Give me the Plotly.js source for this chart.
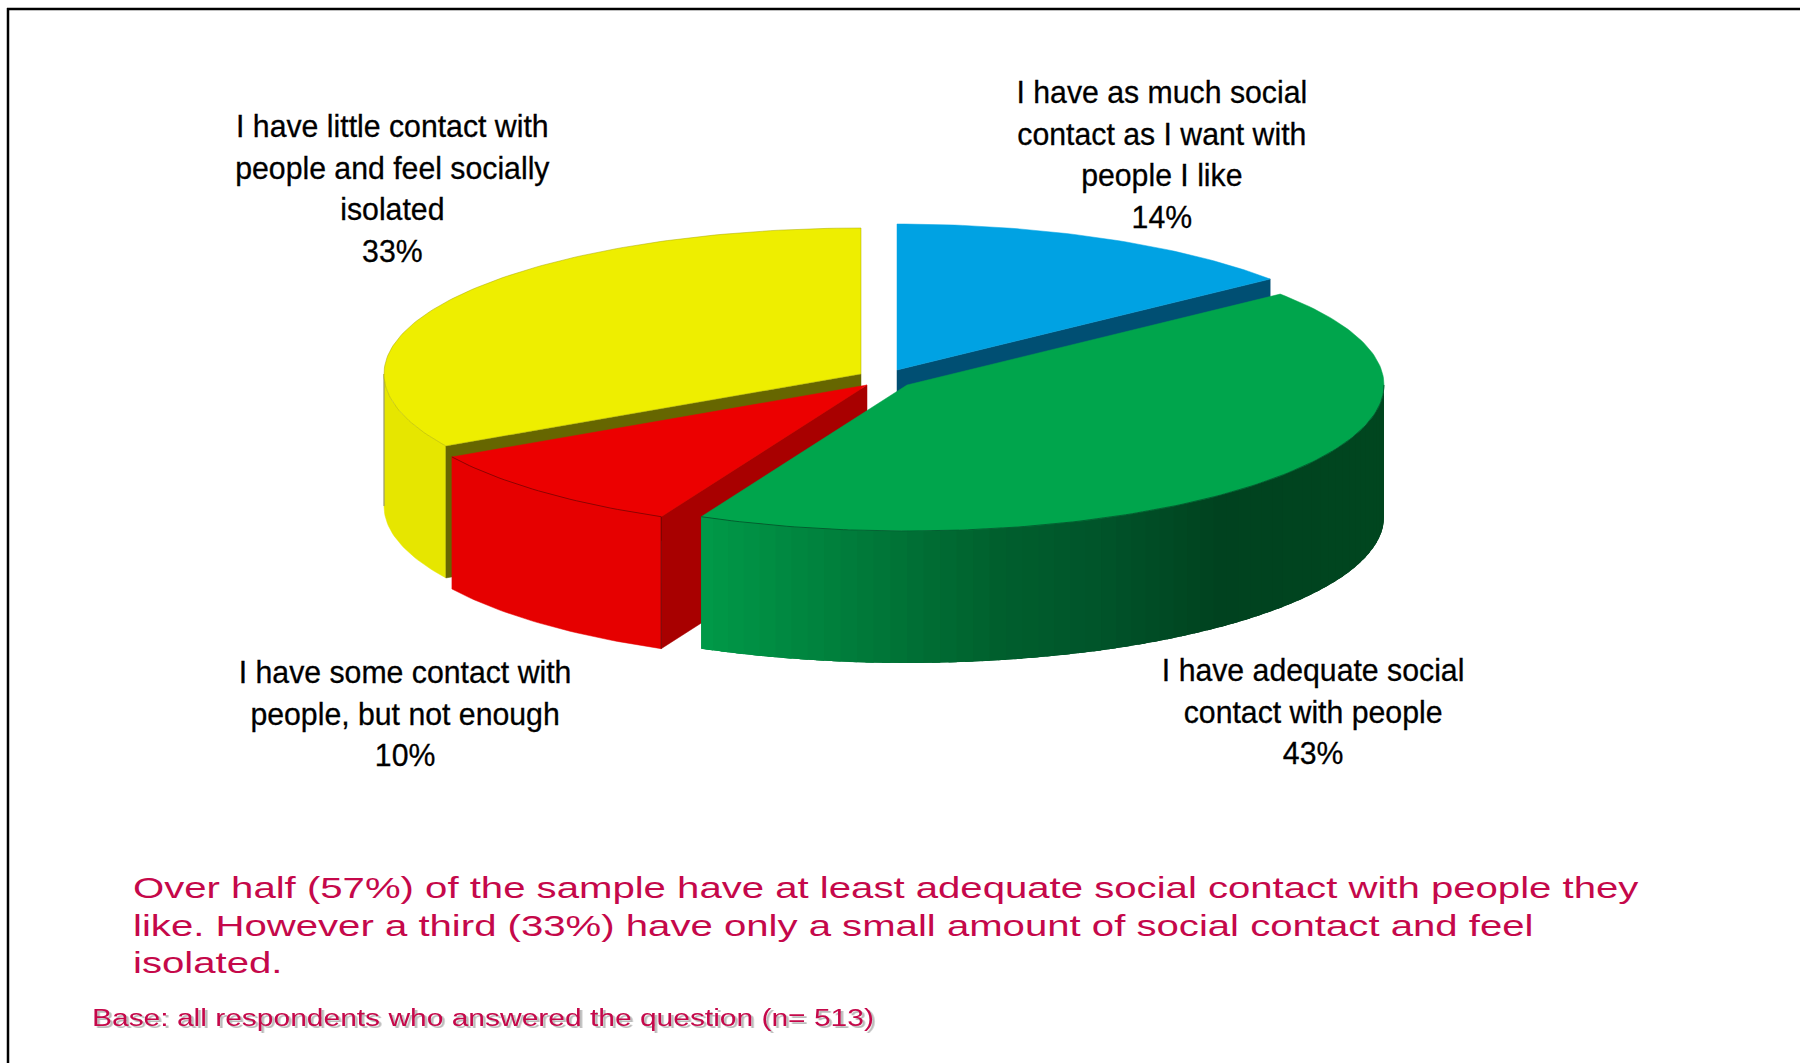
<!DOCTYPE html>
<html><head><meta charset="utf-8">
<script src="https://cdn.plot.ly/plotly-3.0.1.min.js"></script>
<style>
html,body{margin:0;padding:0;background:#fff;overflow:hidden}
#chart{width:1800px;height:1063px}
.annotation text{transform-box:fill-box;}
.annotation[data-index="0"] text,.annotation[data-index="1"] text,.annotation[data-index="2"] text,.annotation[data-index="3"] text{transform-origin:center;transform:scaleX(0.945);stroke:#000;stroke-width:0.3px;}
.annotation[data-index="4"] text{transform-origin:left center;transform:scaleX(1.384);}
.annotation[data-index="5"] text{transform-origin:left center;transform:scaleX(1.303);filter:drop-shadow(2px 2px 0 #bbb);}
</style></head><body><div id="chart"></div>
<script>
// Slices, clockwise from 12 o'clock
const categories=["I have as much social<br>contact as I want with<br>people I like","I have adequate social<br>contact with people","I have some contact with<br>people, but not enough","I have little contact with<br>people and feel socially<br>isolated"];
const values=[14.3,42.8,9.7,33.2];
const topColors=["#00A2E3","#00A54C","#EC0000","#EEEE00"];
const cutColors=["#004F73","#00A54C","#A80000","#666600"];
const wallColors=["#007AAA","#00A54C","#E60000","#E6E600"];
const centerX=[897,907,867,861];
const centerY=[370,385,385,374];
const labelX=[1162,1313,405,392];
const labelY=[154,711,713,188];
// green wall shading: colour stops along x
const shadeX=[701,860,1000,1100,1217,1384];
const shadeR=[0,0,0,0,0,0];
const shadeG=[154,122,95,84,66,70];
const shadeB=[72,58,45,42,31,31];
const noteLines="Over half (57%) of the sample have at least adequate social contact with people they<br>like. However a third (33%) have only a small amount of social contact and feel<br>isolated.";
const baseLine="Base: all respondents who answered the question (n= 513)";

const rx=477, ry=146, depth=132;
const total=values.reduce((a,b)=>a+b,0);
const rad=d=>d*Math.PI/180;
let acc=0;
const slices=values.map((v,i)=>{const a0=acc/total*360;acc+=v;return {i,a0,a1:acc/total*360};});
const pt=(i,a,dz)=>[centerX[i]+rx*Math.sin(rad(a)),centerY[i]-ry*Math.cos(rad(a))+(dz||0)];
const arc=(i,a0,a1,dz)=>{const n=Math.max(2,Math.ceil(Math.abs(a1-a0)));const o=[];for(let k=0;k<=n;k++)o.push(pt(i,a0+(a1-a0)*k/n,dz));return o;};
const traces=[];
function poly(points,color,lineColor,w){
  traces.push({type:'scatter',mode:'lines',x:points.map(p=>p[0]),y:points.map(p=>p[1]),fill:'toself',fillcolor:color,
    line:{color:lineColor||color,width:w===undefined?0.5:w},hoverinfo:'skip',showlegend:false});
}
function edge(points,color,w){
  traces.push({type:'scatter',mode:'lines',x:points.map(p=>p[0]),y:points.map(p=>p[1]),line:{color:color,width:w||0.8},hoverinfo:'skip',showlegend:false});
}
function topFace(s,lineColor){
  const c=[centerX[s.i],centerY[s.i]];
  poly([c].concat(arc(s.i,s.a0,s.a1)).concat([c]),topColors[s.i],lineColor);
}
function cutFace(s,a){
  const c=[centerX[s.i],centerY[s.i]];
  const e=pt(s.i,a),e2=pt(s.i,a,depth);
  poly([c,e,e2,[c[0],c[1]+depth],c],cutColors[s.i]);
}
function wall(s,a0,a1,color,w){
  poly(arc(s.i,a0,a1).concat(arc(s.i,a1,a0,depth)),color,color,w);
}
function shade(x){
  let k=0;while(k<shadeX.length-2&&x>shadeX[k+1])k++;
  const t=Math.min(1,Math.max(0,(x-shadeX[k])/(shadeX[k+1]-shadeX[k])));
  const f=A=>Math.round(A[k]+(A[k+1]-A[k])*t);
  return `rgb(${f(shadeR)},${f(shadeG)},${f(shadeB)})`;
}
const [blue,green,red,yellow]=slices;
// yellow (back left)
wall(yellow,yellow.a0,270,wallColors[3]);
edge([pt(3,270),pt(3,270,depth)],'#888',1);
cutFace(yellow,yellow.a0);
topFace(yellow,'#A8A800');
// blue (back right)
cutFace(blue,blue.a1);
topFace(blue);
// red (front left)
cutFace(red,red.a0);
wall(red,red.a0,red.a1,wallColors[2]);
topFace(red);
edge(arc(2,red.a0,red.a1),'#7a0000',0.8);
edge([pt(2,red.a0),pt(2,red.a0,depth)],'#5a0000',0.8);
// green (front right), wall shaded in overlapping strips
for(let a=90;a<green.a1;a+=2){
  const b=Math.min(a+5,green.a1);
  wall(green,a,b,shade(pt(1,a+1)[0]),0);
}
topFace(green);
edge(arc(1,90,green.a1),'#00502a',0.8);

const labelText=i=>categories[i]+"<br>"+Math.round(values[i])+"%";
const annotations=[0,1,2,3].map(i=>({x:labelX[i],y:labelY[i],xref:'x',yref:'y',text:labelText(i),showarrow:false,align:'center',xanchor:'center',yanchor:'middle',
  font:{family:'"Liberation Sans",Arial,sans-serif',size:32,color:'#000'}}));
annotations.push({x:131,y:925,xref:'x',yref:'y',text:noteLines,showarrow:false,align:'left',xanchor:'left',yanchor:'middle',
  font:{family:'"Liberation Sans",Arial,sans-serif',size:29,color:'#C5084A'}});
annotations.push({x:90,y:1018,xref:'x',yref:'y',text:baseLine,showarrow:false,align:'left',xanchor:'left',yanchor:'middle',
  font:{family:'"Liberation Sans",Arial,sans-serif',size:23,color:'#C5084A'}});

const layout={width:1800,height:1063,margin:{l:0,r:0,t:0,b:0},paper_bgcolor:'#fff',plot_bgcolor:'#fff',showlegend:false,
  xaxis:{range:[0,1800],visible:false,fixedrange:true},yaxis:{range:[1063,0],visible:false,fixedrange:true},
  annotations:annotations,
  shapes:[
   {type:'line',xref:'x',yref:'y',x0:7,x1:1800,y0:9,y1:9,line:{color:'#000',width:2.5}},
   {type:'line',xref:'x',yref:'y',x0:8,x1:8,y0:8,y1:1063,line:{color:'#000',width:2.5}}
  ]};
Plotly.newPlot('chart',traces,layout,{displayModeBar:false,staticPlot:true});
</script></body></html>
